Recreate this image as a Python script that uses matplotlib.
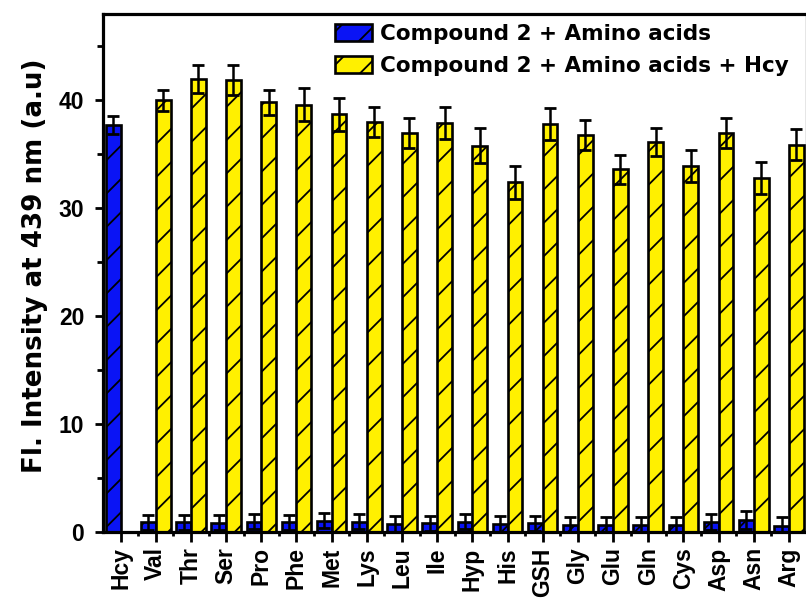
import os
import numpy as np
import matplotlib
matplotlib.use("Agg")
import matplotlib.pyplot as plt
import matplotlib.font_manager as fm
from matplotlib.ticker import MultipleLocator, FixedLocator

# avoid accidental matching of condensed variants
fm.fontManager.ttflist = [f for f in fm.fontManager.ttflist
                          if 'narrow' not in os.path.basename(f.fname).lower()
                          and 'condensed' not in os.path.basename(f.fname).lower()]
try:
    fm.fontManager._findfont_cached.cache_clear()
except Exception:
    pass

categories = ["Hcy", "Val", "Thr", "Ser", "Pro", "Phe", "Met", "Lys", "Leu", "Ile",
              "Hyp", "His", "GSH", "Gly", "Glu", "Gln", "Cys", "Asp", "Asn", "Arg"]

# Compound 2 + Amino acids (blue)
blue_vals = [37.7, 0.9, 0.9, 0.85, 0.95, 0.9, 1.05, 0.95, 0.7, 0.8,
             0.95, 0.75, 0.8, 0.65, 0.65, 0.65, 0.65, 0.9, 1.1, 0.55]
blue_err = [0.85, 0.7, 0.7, 0.7, 0.7, 0.7, 0.7, 0.7, 0.75, 0.7,
            0.7, 0.75, 0.7, 0.75, 0.75, 0.75, 0.75, 0.75, 0.8, 0.8]

# Compound 2 + Amino acids + Hcy (yellow), for categories[1:]
yellow_vals = [40.0, 42.0, 41.85, 39.8, 39.6, 38.7, 38.0, 37.0, 37.9,
               35.8, 32.4, 37.8, 36.8, 33.6, 36.1, 33.9, 37.0, 32.8, 35.9]
yellow_err = [1.0, 1.3, 1.4, 1.2, 1.5, 1.5, 1.4, 1.4, 1.5,
              1.6, 1.55, 1.5, 1.4, 1.35, 1.3, 1.5, 1.4, 1.5, 1.4]

legend_labels = ["Compound 2 + Amino acids", "Compound 2 + Amino acids + Hcy"]
ylabel = "Fl. Intensity at 439 nm (a.u)"

plt.rcParams['font.family'] = ['Liberation Sans', 'DejaVu Sans']
plt.rcParams['hatch.linewidth'] = 1.3

W, H = 806, 610
fig = plt.figure(figsize=(W / 100, H / 100), dpi=100)
ax_w = (806.5 - 103) / W
ax_h = (532 - 14) / H
ax = fig.add_axes([103 / W, 1 - 532 / H, ax_w, ax_h])

x = np.arange(len(categories))
bw = 0.42
blue = '#0A14F5'
yellow = '#FFF000'

ax.bar(x, blue_vals, width=-bw, align='edge', color=blue, edgecolor='black',
       linewidth=1.9, hatch='/', label=legend_labels[0], zorder=2)
ax.errorbar(x - bw / 2, blue_vals, yerr=blue_err, fmt='none', ecolor='black',
            elinewidth=1.8, capsize=4.3, capthick=2.0, zorder=3)

xy = x[1:]
ax.bar(xy, yellow_vals, width=bw, align='edge', color=yellow, edgecolor='black',
       linewidth=1.9, hatch='/', label=legend_labels[1], zorder=2)
ax.errorbar(xy + bw / 2, yellow_vals, yerr=yellow_err, fmt='none', ecolor='black',
            elinewidth=1.8, capsize=4.3, capthick=2.0, zorder=3)

ax.set_xlim(-0.5, 19.5)
ax.set_ylim(0, 48)
ax.set_xticks(x)
ax.set_xticklabels(categories, rotation=90, fontsize=16.5, fontweight='bold')
ax.xaxis.set_minor_locator(FixedLocator(x[:-1] + 0.5))
ax.yaxis.set_major_locator(MultipleLocator(10))
ax.yaxis.set_minor_locator(MultipleLocator(5))
for lab in ax.get_yticklabels():
    lab.set_fontsize(16.5)
    lab.set_fontweight('bold')

ax.tick_params(axis='x', which='major', direction='out', length=7, width=2, pad=4)
ax.tick_params(axis='x', which='minor', direction='out', length=3, width=2)
ax.tick_params(axis='y', which='major', direction='out', length=5.5, width=2, pad=8)
ax.tick_params(axis='y', which='minor', direction='out', length=4, width=2)
for s in ax.spines.values():
    s.set_linewidth(2.3)

ax.set_ylabel(ylabel, fontsize=18.8, fontweight='bold', family='DejaVu Sans')
ax.yaxis.set_label_coords(-(103 - 48) / (W * ax_w), (532 - 266) / (H * ax_h))

leg = ax.legend(loc='upper left', bbox_to_anchor=(335 / W, 1 - 24 / H),
                bbox_transform=fig.transFigure, frameon=False,
                prop={'weight': 'bold', 'size': 15.5, 'family': 'DejaVu Sans'},
                handlelength=1.72, handleheight=0.84, handletextpad=0.37,
                labelspacing=0.54, borderpad=0, borderaxespad=0)

fig.savefig("out.png", dpi=100)
